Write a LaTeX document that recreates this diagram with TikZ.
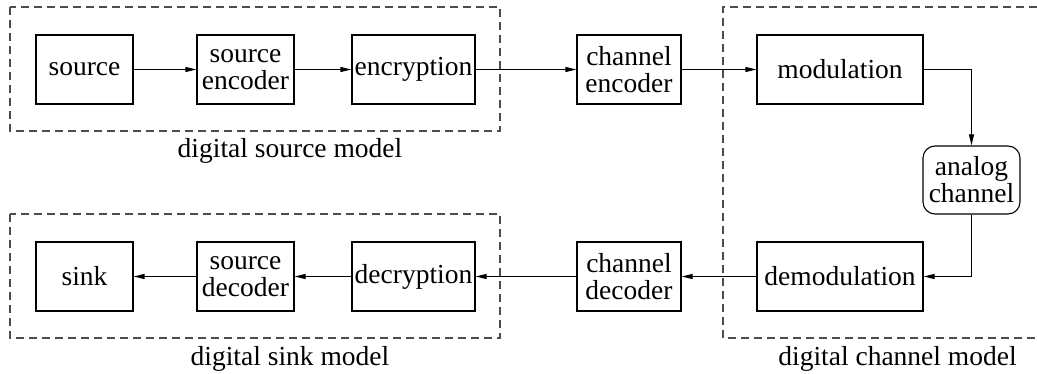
\documentclass[tikz,border=0pt]{standalone}
\usepackage{fontspec}
\setmainfont{Liberation Serif}
\usetikzlibrary{arrows.meta}
\begin{document}
\begin{tikzpicture}[x=1pt,y=-1pt,
  block/.style={draw,line width=1.1pt,minimum height=69pt,inner sep=0pt,
    align=center,font=\fontsize{27.5}{27}\selectfont},
  flow/.style={line width=1.1pt,-{Triangle[length=11pt,width=5pt]}},
  group/.style={draw=black!70,line width=1.1pt,dash pattern=on 8pt off 5pt},
  caption/.style={anchor=base,inner sep=0pt,font=\fontsize{27.5}{27}\selectfont}]
\useasboundingbox (0,0) rectangle (1037,374);

% dashed model frames
\draw[group] (10,7) rectangle (500,131);
\draw[group] (10,214) rectangle (500,338);
\draw[group] (1037,7) -- (723,7) -- (723,338) -- (1037,338);

% transmit chain
\node[block,minimum width=97pt]  (src)  at (84.5,69.5)  {source};
\node[block,minimum width=97pt]  (senc) at (245.5,69.5) {source\\encoder};
\node[block,minimum width=123pt] (enc)  at (413.5,69.5) {encryption};
\node[block,minimum width=104pt] (cenc) at (629,69.5)   {channel\\encoder};
\node[block,minimum width=166pt] (mod)  at (840,69.5)   {modulation};

% channel
\node[block,minimum width=97pt,minimum height=68pt,rounded corners=12pt] (ach) at (971.5,180) {analog\\channel};

% receive chain
\node[block,minimum width=166pt] (dem)  at (840,276.5)   {demodulation};
\node[block,minimum width=104pt] (cdec) at (629,276.5)   {channel\\decoder};
\node[block,minimum width=123pt] (dec)  at (413.5,276.5) {decryption};
\node[block,minimum width=97pt]  (sdec) at (245.5,276.5) {source\\decoder};
\node[block,minimum width=97pt]  (snk)  at (84.5,276.5)  {sink};

% connectors
\draw[flow] (src) -- (senc);
\draw[flow] (senc) -- (enc);
\draw[flow] (enc) -- (cenc);
\draw[flow] (cenc) -- (mod);
\draw[flow] (mod.east) -| (ach.north);
\draw[flow] (ach.south) |- (dem.east);
\draw[flow] (dem) -- (cdec);
\draw[flow] (cdec) -- (dec);
\draw[flow] (dec) -- (sdec);
\draw[flow] (sdec) -- (snk);

% frame captions
\node[caption] (lsrc) at (290,158)   {digital source model};
\node[caption] (lsnk) at (290,366)   {digital sink model};
\node[caption] (lch)  at (897.5,365) {digital channel model};
\end{tikzpicture}
\end{document}
